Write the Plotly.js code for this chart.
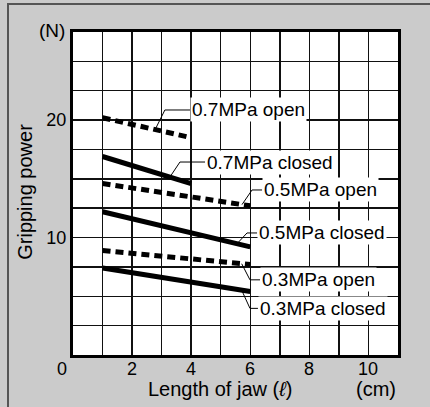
<!DOCTYPE html>
<html><head><meta charset="utf-8">
<script src="https://cdn.plot.ly/plotly-3.0.1.min.js"></script>
<style>html,body{margin:0;padding:0;background:#cbcbcb;}</style>
</head><body><div id="chart" style="width:430px;height:407px;"></div>
<script>
// ---- data ----
const jawLength = [1, 6];
const jawLength07 = [1, 4];
const open07 = [20.2, 18.5];
const closed07 = [16.9, 14.6];
const open05 = [14.6, 12.7];
const closed05 = [12.2, 9.2];
const open03 = [8.9, 7.7];
const closed03 = [7.4, 5.4];
const seriesLabels = ["0.7MPa open", "0.7MPa closed", "0.5MPa open", "0.5MPa closed", "0.3MPa open", "0.3MPa closed"];
const xTickVals = [0, 2, 4, 6, 8, 10];
const yTickVals = [10, 20];

const FONT = "Liberation Sans, Arial, Helvetica, sans-serif";
const series = [
  {x: jawLength07, y: open07, dashed: true},
  {x: jawLength07, y: closed07, dashed: false},
  {x: jawLength, y: open05, dashed: true},
  {x: jawLength, y: closed05, dashed: false},
  {x: jawLength, y: open03, dashed: true},
  {x: jawLength, y: closed03, dashed: false}
];
const traces = series.map((s, i) => ({
  type: 'scatter', mode: 'lines', x: s.x, y: s.y, name: seriesLabels[i],
  line: {color: '#000', width: 5, dash: s.dashed ? '8px,5px' : 'solid'},
  hoverinfo: 'skip'
}));

function interp(xs, ys, x) {
  return ys[0] + (ys[1] - ys[0]) * (x - xs[0]) / (xs[1] - xs[0]);
}
// leader geometry: anchor x on series, bend point, end x of horizontal
const leaders = [
  {ax: 2.78, bx: 3.11, by: 20.86, ex: 3.96},
  {ax: 3.28, bx: 3.62, by: 16.43, ex: 4.47},
  {ax: 5.72, bx: 6.06, by: 14.05, ex: 6.40},
  {ax: 5.55, bx: 5.89, by: 10.39, ex: 6.23},
  {ax: 5.71, bx: 5.99, by: 6.40, ex: 6.33},
  {ax: 5.71, bx: 5.99, by: 3.97, ex: 6.26}
];
const shapes = leaders.map((l, i) => {
  const ay = interp(series[i].x, series[i].y, l.ax);
  return {type: 'path', xref: 'x', yref: 'y', layer: 'above',
    path: `M ${l.ax},${ay} L ${l.bx},${l.by} L ${l.ex},${l.by}`,
    line: {color: '#000', width: 1}};
});
// outer frame
shapes.push({type: 'rect', xref: 'paper', yref: 'paper', x0: -0.2, x1: 1.5, y0: -0.5, y1: 1.0867,
  line: {color: '#555', width: 2}, fillcolor: 'rgba(0,0,0,0)', layer: 'below'});

const annotations = leaders.map((l, i) => ({
  xref: 'x', yref: 'y', x: l.ex, y: l.by, xanchor: 'left', yanchor: 'middle',
  text: seriesLabels[i], showarrow: false, bgcolor: '#fff', borderpad: 1,
  font: {family: FONT, size: 19, color: '#000'}
}));
// x tick labels (0 sits at the corner, left of the axis)
xTickVals.forEach(v => annotations.push({
  xref: 'x', yref: 'y', x: v, y: 0, xshift: v === 0 ? -11 : 0, yshift: -14, text: String(v), showarrow: false,
  xanchor: 'center', yanchor: 'middle', font: {family: FONT, size: 18, color: '#000'}
}));
annotations.push(
  {xref: 'x', yref: 'y', x: 0, y: 27.5, xshift: -21, yshift: 2, text: '(N)', showarrow: false,
   xanchor: 'center', yanchor: 'middle', font: {family: FONT, size: 19, color: '#000'}},
  {xref: 'paper', yref: 'paper', x: -0.148, y: 0.505, textangle: -90, text: 'Gripping power', showarrow: false,
   xanchor: 'center', yanchor: 'middle', font: {family: FONT, size: 20, color: '#000'}},
  {xref: 'paper', yref: 'paper', x: 0.452, y: -0.105, text: 'Length of jaw (<i>ℓ</i>)', showarrow: false,
   xanchor: 'center', yanchor: 'middle', font: {family: FONT, size: 20, color: '#000'}},
  {xref: 'paper', yref: 'paper', x: 0.932, y: -0.105, text: '(cm)', showarrow: false,
   xanchor: 'center', yanchor: 'middle', font: {family: FONT, size: 20, color: '#000'}}
);

const layout = {
  width: 430, height: 407,
  margin: {l: 73, r: 32, t: 32, b: 52, pad: 0},
  paper_bgcolor: '#cbcbcb', plot_bgcolor: '#fff',
  showlegend: false,
  font: {family: FONT, size: 18, color: '#000'},
  xaxis: {range: [0, 11], tickvals: xTickVals, showticklabels: false, ticks: '', showgrid: true, gridcolor: '#111', gridwidth: 1.5,
    minor: {dtick: 1, showgrid: true, gridcolor: '#111', gridwidth: 1.5},
    zeroline: false, showline: true, linecolor: '#000', linewidth: 3, mirror: true, fixedrange: true},
  yaxis: {range: [0, 27.5], tickvals: yTickVals, ticks: '', showgrid: true, gridcolor: '#111', gridwidth: 1.5,
    minor: {dtick: 2.5, showgrid: true, gridcolor: '#111', gridwidth: 1.5},
    zeroline: false, showline: true, linecolor: '#000', linewidth: 3, mirror: true,
    tickfont: {family: FONT, size: 18, color: '#000'}, fixedrange: true},
  shapes: shapes,
  annotations: annotations
};
Plotly.newPlot('chart', traces, layout, {displayModeBar: false, staticPlot: true});
</script></body></html>
